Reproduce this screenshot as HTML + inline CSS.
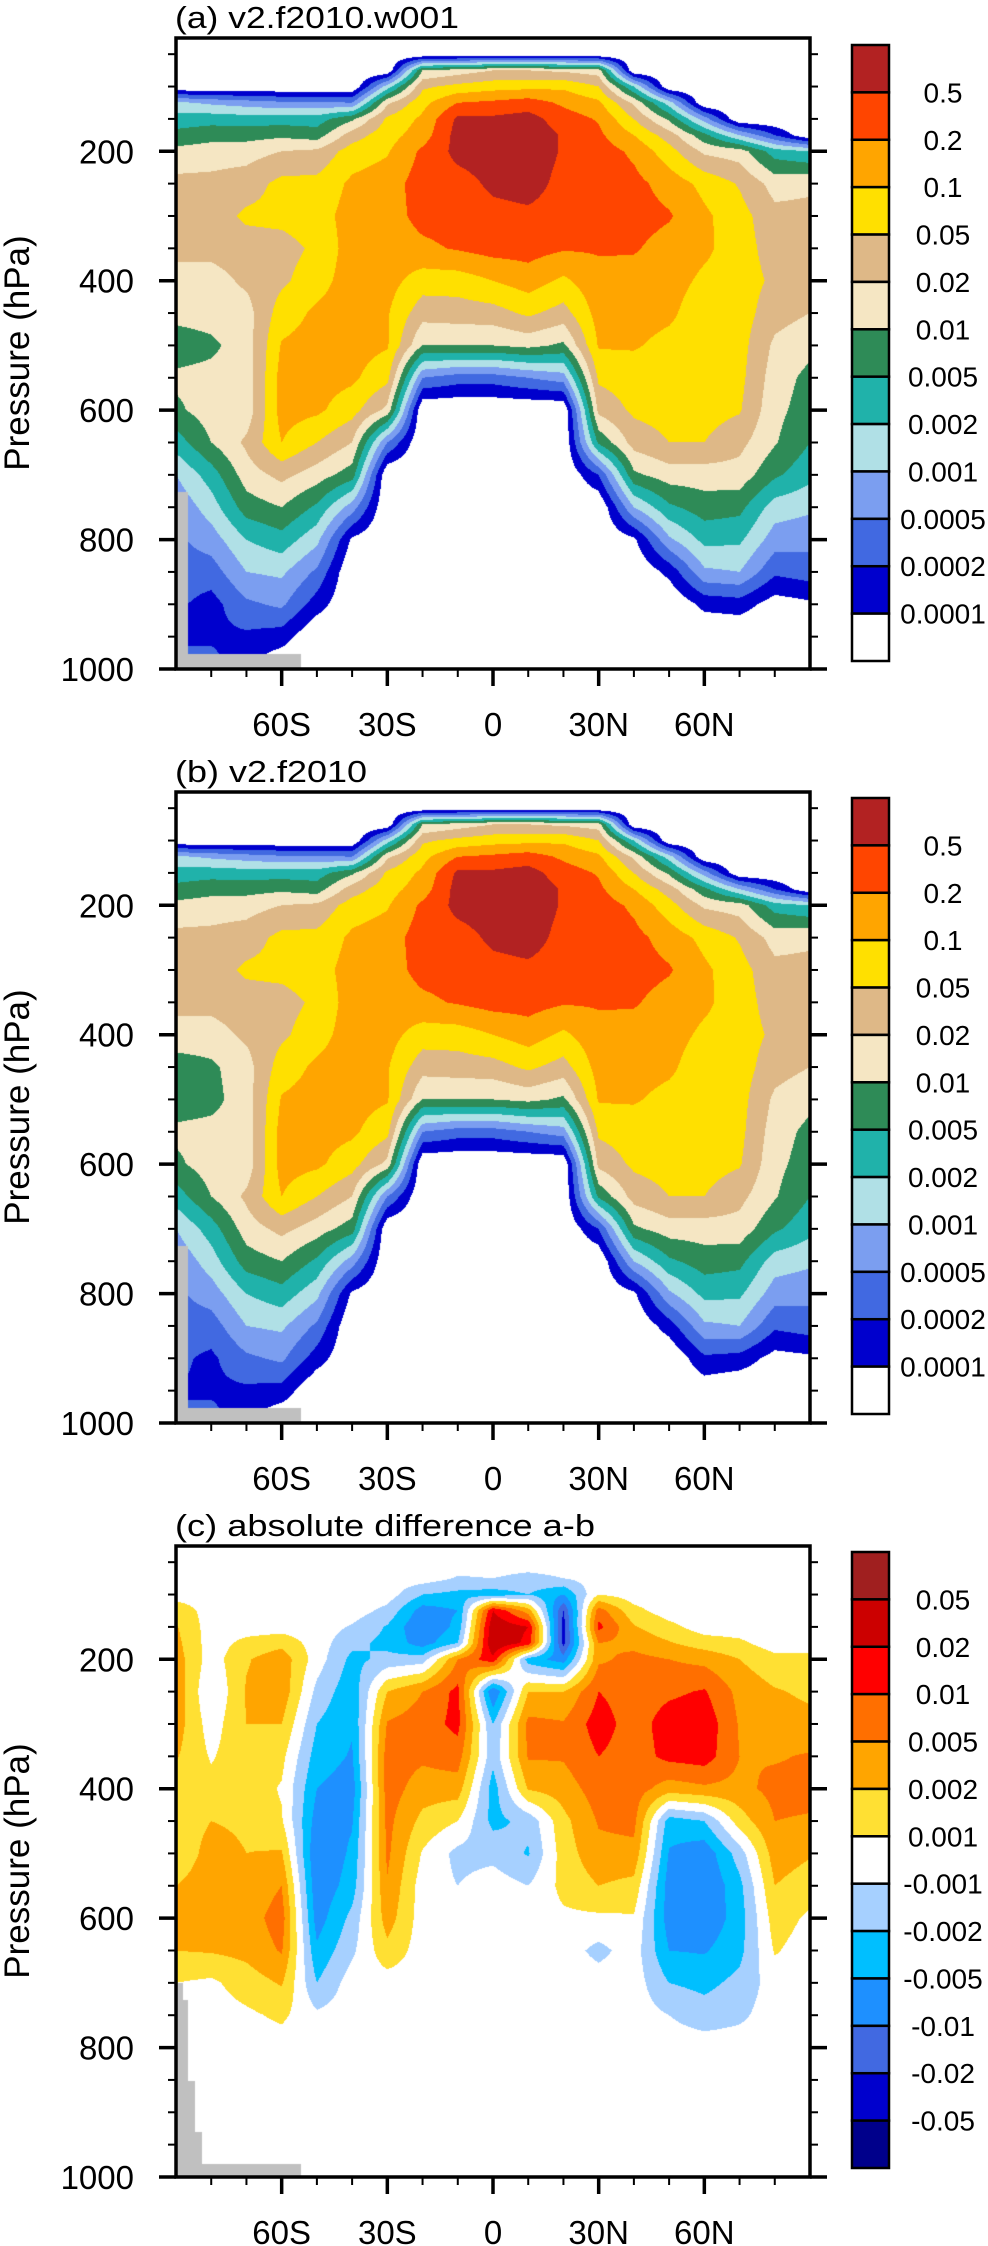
<!DOCTYPE html>
<html><head><meta charset="utf-8">
<style>
html,body{margin:0;padding:0;background:#fff;}
#root{position:relative;width:988px;height:2246px;overflow:hidden;background:#fff;}
canvas{position:absolute;}
svg{position:absolute;left:0;top:0;}
text{font-family:"Liberation Sans",Arial,sans-serif;fill:#000;}
</style></head>
<body>
<div id="root">
<canvas id="cva" width="634" height="631" style="left:176px;top:38px"></canvas>
<canvas id="cvb" width="634" height="631" style="left:176px;top:792px"></canvas>
<canvas id="cvc" width="634" height="631" style="left:176px;top:1546px"></canvas>
<svg id="ov" width="988" height="2246"></svg>
</div>
<script>
// ---- shared axis data ----
const LONS = [-90,-80,-70,-60,-50,-40,-30,-20,-10,0,10,20,30,40,50,60,70,80,90];
const PRES = [25,50,75,100,125,150,175,200,250,300,350,400,450,500,550,600,650,700,750,800,850,900,950,1000];
const yTickLabels = [200,400,600,800,1000];
const xTickVals = [-60,-30,0,30,60];
const xTickLabels = ["60S","30S","0","30N","60N"];
const levelLabelsAB = ["0.5","0.2","0.1","0.05","0.02","0.01","0.005","0.002","0.001","0.0005","0.0002","0.0001"];
const levelLabelsC = ["0.05","0.02","0.01","0.005","0.002","0.001","-0.001","-0.002","-0.005","-0.01","-0.02","-0.05"];

// ---- panel (a): contour level class (continuous) per longitude column, rows = PRES ----
const gridA = [
[0,0,0,0,4.2,5.5,6.3,7.3,8.3,8.4,8.3,7.6,7.3,6.5,7.2,6.8,5.5,4,3.2,2.8,2.5,2.2,2,2],
[0,0,0,0,3.8,5.6,6.6,7.5,8.3,8.5,8.3,7.6,7.4,6.8,7.3,7.5,7,5.5,4.5,3.5,2.5,1.6,1.8,2.5],
[0,0,0,0,3.5,5.5,6.6,7.6,8.5,9.2,8.5,8.2,7.6,7.5,7.4,7.4,8.2,7.5,6.5,5,4,2.8,1.8,1],
[0,0,0,0,3.2,5.5,6.8,8,9.3,9.3,8.6,8.8,9.5,10.1,10.4,10.4,10,8.3,7,5.6,4.2,3.2,1.5,0],
[0,0,0,0,3.2,5.5,6.5,8.2,9.3,9.6,9.2,9.6,10.2,10.4,10.4,10.2,9,7.5,5.8,4.3,2.8,1.5,0,0],
[0,0,0,0,3,6.8,8.5,9.5,10.2,10.4,10.5,10.5,10.5,10.4,10.2,9.4,8,6.5,3.5,0.8,0,0,0,0],
[0,0,0,4.5,7.8,9.2,9.6,9.9,10.5,10.6,10.5,10.4,10.1,10.1,9.3,7.7,3,0,0,0,0,0,0,0],
[0,0,7,8.8,9.7,10.2,10.5,11.2,11.5,11.3,10.8,9.5,8.4,7,3,0,0,0,0,0,0,0,0,0],
[0,0,7.5,9.3,11,12.2,12.4,12.3,11.6,11.4,11.1,9.5,8.5,7,2.5,0,0,0,0,0,0,0,0,0],
[0,0,8,9.6,11.2,12.2,12.5,12.5,12.2,11.7,11.4,10,8.6,7,2.5,0,0,0,0,0,0,0,0,0],
[0,0,8,9.7,11.5,12.4,12.6,12.6,12.4,11.8,11.4,10.5,9.2,7.3,3,0,0,0,0,0,0,0,0,0],
[0,0,7.8,9.8,10.8,11.5,11.9,11.9,11.7,11.6,11.1,9.8,8.6,6.8,3.5,0,0,0,0,0,0,0,0,0],
[0,0,7.5,9,10.2,10.9,11.2,11.5,11.6,11.4,11.1,10.7,10.4,10.1,9.2,8.3,6.2,2,0,0,0,0,0,0],
[0,0,0,5,7.8,9,10,10.8,11.3,11.4,11.1,10.6,10.4,10.1,9.5,9.2,8.4,6.8,4,0.8,0,0,0,0],
[0,0,0,0,4.5,6.8,8.5,9.4,10.6,11.1,10.6,10.4,10.2,9.7,9.5,9.4,9,7.5,5.8,3.8,1.3,0,0,0],
[0,0,0,0,0,3.5,6.3,7.8,9.7,10.2,10.2,9.8,9.4,9.5,9.5,9.4,9,7.5,6.5,5.3,3.8,1.3,0,0],
[0,0,0,0,0,0,4,7.5,8.9,9.4,9.5,9.5,9.5,9.4,9.3,9.1,8.3,7.6,6.3,5.2,4,1.5,0,0],
[0,0,0,0,0,0,2,5.5,7.6,8.3,8.5,8.8,8.4,7.8,7.5,7.3,7.1,6.2,4.5,3.5,2.2,0.5,0,0],
[0,0,0,0,0,0,0,5,7.8,8.3,8.4,8.3,8,7.3,6.7,6.5,6,5.3,4.2,3.3,2.5,0.8,0,0]
];
// ---- panel (b) ----
const gridB = [
[0,0,0,0,4.2,5.5,6.3,7.3,8.3,8.4,8.3,7.6,6.5,6.5,7.2,6.8,5.5,4,3.2,2.8,2.5,2.2,2,2],
[0,0,0,0,3.8,5.6,6.6,7.5,8.3,8.5,8.3,7.6,6.8,6.7,7.3,7.5,7,5.5,4.5,3.5,2.5,1.8,1.8,2.5],
[0,0,0,0,3.5,5.5,6.6,7.6,8.5,9.2,8.5,8.2,7.6,7.5,7.4,7.4,8.2,7.5,6.5,5,4,2.8,1.8,1],
[0,0,0,0,3.2,5.5,6.8,8,9.3,9.3,8.6,8.8,9.5,10.1,10.4,10.4,10,8.3,7,5.6,4.2,3.2,1.6,0],
[0,0,0,0,3.2,5.5,6.5,8.2,9.3,9.6,9.2,9.6,10.2,10.4,10.4,10.2,9,7.5,5.8,4.3,2.8,1.5,0,0],
[0,0,0,0,3,6.8,8.5,9.5,10.2,10.4,10.5,10.5,10.5,10.4,10.2,9.4,8,6.5,3.5,0.8,0,0,0,0],
[0,0,0,4.5,7.8,9.2,9.6,9.9,10.5,10.6,10.5,10.4,10.1,10.1,9.3,7.7,3,0,0,0,0,0,0,0],
[0,0,7,8.8,9.7,10.2,10.5,11.2,11.5,11.3,10.8,9.5,8.4,7,3,0,0,0,0,0,0,0,0,0],
[0,0,7.5,9.3,11,12.2,12.4,12.3,11.6,11.4,11.1,9.5,8.5,7,2.5,0,0,0,0,0,0,0,0,0],
[0,0,8,9.6,11.2,12.2,12.5,12.5,12.2,11.7,11.4,10,8.6,7,2.5,0,0,0,0,0,0,0,0,0],
[0,0,8,9.7,11.5,12.4,12.6,12.6,12.4,11.8,11.4,10.5,9.2,7.3,3,0,0,0,0,0,0,0,0,0],
[0,0,7.8,9.8,10.8,11.5,11.9,11.9,11.7,11.6,11.1,9.8,8.6,6.8,3.5,0,0,0,0,0,0,0,0,0],
[0,0,7.5,9,10.2,10.9,11.2,11.5,11.6,11.4,11.1,10.7,10.4,10.1,9.2,8.3,6.2,2,0,0,0,0,0,0],
[0,0,0,5,7.8,9,10,10.8,11.3,11.4,11.1,10.6,10.4,10.1,9.5,9.2,8.4,6.8,4,0.8,0,0,0,0],
[0,0,0,0,4.5,6.8,8.5,9.4,10.6,11.1,10.6,10.4,10.2,9.7,9.5,9.4,9,7.5,5.8,3.8,1.5,0,0,0],
[0,0,0,0,0,3.5,6.3,7.8,9.7,10.2,10.2,9.8,9.4,9.5,9.5,9.4,9,7.5,6.5,5.3,3.8,1.8,0.3,0],
[0,0,0,0,0,0,4,7.5,8.9,9.4,9.5,9.5,9.5,9.4,9.3,9.1,8.3,7.6,6.3,5.2,4,1.6,0,0],
[0,0,0,0,0,0,2,5.5,7.6,8.3,8.5,8.8,8.4,7.8,7.5,7.3,7.1,6.2,4.5,3.5,2.2,0.6,0,0],
[0,0,0,0,0,0,0,5,7.8,8.3,8.4,8.3,8,7.3,6.7,6.5,6,5.3,4.2,3.3,2.5,0.8,0,0]
];
// ---- panel (c): signed difference class (0 = |diff|<0.001) ----
const gridC = [
[0,0,0,0,1.2,1.6,1.8,2,2.2,2,1.6,1,0.8,0.6,1.5,2.2,1.5,0.5,0,0,0,0,0,0],
[0,0,0,0,0,0,0,0,-0.5,0,0.4,0.8,1.5,2,2.2,2.3,1.6,0.3,0,0,0,0,0,0],
[0,0,0,0,0,0,0.8,1.4,1.6,1.5,1.2,1.1,1.3,1.5,1.8,2,1.8,1,0.3,0,0,0,0,0],
[0,0,0,0,0,0,1.2,2.1,2.2,1.5,0.8,0.4,0.6,1.6,2.5,3,2.6,1.6,0.7,0,0,0,0,0],
[0,0,0,0,0,0,0,0,-0.8,-1.5,-2,-2.5,-3,-3.5,-3.3,-3,-2.3,-1.5,-0.3,0,0,0,0,0],
[0,0,0,0,0,-0.6,-1.2,-1.8,-2.2,-2.4,-2.6,-3,-2.6,-2.3,-2,-1.2,-0.7,0,0,0,0,0,0,0],
[0,0,0,0,-0.8,-1.6,-1.8,-1.2,1.5,2.6,3,3,2.8,2.7,2.4,2,1.2,0,0,0,0,0,0,0],
[0,0,0,-1.5,-3,-3.5,-3,-1,2.5,3,2.7,2,1.2,0.4,0,0,0,0,0,0,0,0,0,0],
[0,0,-0.6,-1.8,-2.5,-2.2,-1.5,2.5,3.8,3.8,3,2,0.5,-0.8,-0.5,0,0,0,0,0,0,0,0,0],
[0,0,-0.5,-2,4.5,5.3,5.5,4.2,-3.5,-1.5,-1.2,-2,-1.8,-0.8,0,0,0,0,0,0,0,0,0,0],
[0,0,-0.8,-1.5,2,4.5,4.2,-2,1.5,2.8,2.6,1.6,-1.2,-1.6,-0.5,0,0,0,0,0,0,0,0,0],
[0,0,-0.5,-2.5,-4.5,-5,-4.8,-3,1.5,2.6,2.6,2,1.2,1,0.8,0.3,0,0,0,0,0,0,0,0],
[0,0,0,0.5,3,3.8,2.5,2.3,3.5,4,3.5,3,2.6,2.2,1.5,0.3,-0.8,0,0,0,0,0,0,0],
[0,0,0,0,0.8,1.6,2.2,2.8,3,3,3,3,2.8,2.2,1.2,0.4,0,0,0,0,0,0,0,0],
[0,0,0,0,0,0.8,1.6,2.5,3.3,4,3.8,2,-2,-2.6,-3,-3,-2.5,-1.5,-0.5,0,0,0,0,0],
[0,0,0,0,0,0,1,2.2,3.6,4.2,4,2.3,-1.5,-3.2,-3.5,-3.3,-2.6,-1.8,-1,0,0,0,0,0],
[0,0,0,0,0,0,0.7,1.5,2.2,2.4,2.5,2.2,1,-1,-1.8,-2,-1.8,-1.2,-0.7,0,0,0,0,0],
[0,0,0,0,0,0,0,0.8,1.6,2,2.4,2.8,2.5,2,1.5,1,0.6,0,0,0,0,0,0,0],
[0,0,0,0,0,0,0,0.8,1.3,1.8,2.6,2.8,2.4,1.6,1,0.3,0,0,0,0,0,0,0,0]
];
// topography mask: [west lon, east lon, surface pressure top]
const topoAB = [[-90,-86.5,727],[-86.5,-54.5,977]];
const topoC = [[-90,-88,701],[-88,-86.5,727],[-86.5,-84.5,852],[-84.5,-82.5,930],[-82.5,-54.5,980]];

const colorsAB = ["#ffffff","#0000cd","#4169e1","#7b9ef0","#b0e0e6","#20b2aa","#2e8b57","#f5e6c3","#deb887","#ffe000","#ffa500","#ff4500","#b22222"];
const colorsCpos = ["#ffffff","#ffe033","#ffa500","#ff6f00","#ff0000","#cc0000","#a01f1f"];
const colorsCneg = ["#ffffff","#a6d0ff","#00bfff","#1e90ff","#4169e1","#0000cd","#00008b"];

const FW = 634, FH = 631, FL = 176;
const panels = [
 {id:"a", top:38, grid:gridA, topo:topoAB, title:"(a) v2.f2010.w001", kind:"ab"},
 {id:"b", top:792, grid:gridB, topo:topoAB, title:"(b) v2.f2010", kind:"ab"},
 {id:"c", top:1546, grid:gridC, topo:topoC, title:"(c) absolute difference a-b", kind:"c"}
];
const xOf = lon => FL + (lon + 90) / 180 * FW;
const yOf = (p, top) => top + (p - 25) / 975 * FH;

function hex(c){return [parseInt(c.substr(1,2),16),parseInt(c.substr(3,2),16),parseInt(c.substr(5,2),16)];}
function colorFor(kind, v){
  if(kind==="ab"){ let k=Math.floor(v); if(k<0)k=0; if(k>12)k=12; return colorsAB[k]; }
  if(v>=0){ let k=Math.floor(v+0.5); if(k>6)k=6; return colorsCpos[k]; }
  let k=Math.floor(-v+0.5); if(k>6)k=6; return colorsCneg[k];
}
function sample(grid, lon, p){
  let li = Math.floor((lon + 90) / 10); if(li<0)li=0; if(li>17)li=17;
  const tx = (lon - LONS[li]) / (LONS[li+1]-LONS[li]);
  let pi = 0; while(pi < PRES.length-2 && p > PRES[pi+1]) pi++;
  let ty = (p - PRES[pi]) / (PRES[pi+1]-PRES[pi]); ty=Math.max(0,Math.min(1,ty));
  const a=grid[li][pi], b=grid[li+1][pi], c=grid[li][pi+1], d=grid[li+1][pi+1];
  return (a*(1-tx)+b*tx)*(1-ty)+(c*(1-tx)+d*tx)*ty;
}
panels.forEach(P=>{
  const cv=document.getElementById("cv"+P.id), ctx=cv.getContext("2d");
  const img=ctx.createImageData(FW,FH), D=img.data, cache={};
  for(let j=0;j<FH;j++){
    const p=25+975*(j+0.5)/FH;
    for(let i=0;i<FW;i++){
      const lon=-90+180*(i+0.5)/FW;
      let col=colorFor(P.kind, sample(P.grid,lon,p));
      for(const t of P.topo){ if(lon>=t[0]&&lon<t[1]&&p>=t[2]) col="#c0c0c0"; }
      const rgb=cache[col]||(cache[col]=hex(col));
      const o=(j*FW+i)*4; D[o]=rgb[0];D[o+1]=rgb[1];D[o+2]=rgb[2];D[o+3]=255;
    }
  }
  ctx.putImageData(img,0,0);
});

// ---- overlay ----
const NS="http://www.w3.org/2000/svg", ov=document.getElementById("ov");
function mk(tag, attrs, parent, txt){
  const e=document.createElementNS(NS,tag);
  for(const k in attrs) e.setAttribute(k,attrs[k]);
  if(txt!==undefined) e.textContent=txt;
  (parent||ov).appendChild(e); return e;
}
panels.forEach(P=>{
  const g=mk("g",{});
  
  
  const t=mk("text",{x:175,y:P.top-10,"font-size":31,textLength:P.kind==="c"?420:(P.id==="a"?284:192),lengthAdjust:"spacingAndGlyphs"},g,P.title);
  
  
  for(let p=50;p<=1000;p+=50){
    const y=yOf(p,P.top), major=(p%200===0), L=major?17:8;
    const tl=mk("line",{x1:FL-L,x2:FL,y1:y,y2:y,stroke:"#000","stroke-width":major?3.5:2},g);
    
    
    const tr=mk("line",{x1:FL+FW,x2:FL+FW+L,y1:y,y2:y,stroke:"#000","stroke-width":major?3.5:2},g);
    
    
  }
  yTickLabels.forEach(p=>{
    const lb=mk("text",{x:134,y:yOf(p,P.top)+12,"font-size":33,"text-anchor":"end"},g,String(p));
    
    
  });
  for(let lon=-80;lon<=80;lon+=10){
    const major=xTickVals.indexOf(lon)>=0, x=xOf(lon), L=major?17:8;
    const xt=mk("line",{x1:x,x2:x,y1:P.top+FH,y2:P.top+FH+L,stroke:"#000","stroke-width":major?3.5:2},g);
    
    
  }
  xTickVals.forEach((lon,i)=>{
    const lb=mk("text",{x:xOf(lon),y:P.top+FH+67,"font-size":33,"text-anchor":"middle"},g,xTickLabels[i]);
    
    
  });
  const fr=mk("rect",{x:FL,y:P.top,width:FW,height:FH,fill:"none",stroke:"#000","stroke-width":3.5},g);
  
  
  const yt=mk("text",{x:0,y:0,"font-size":35,"text-anchor":"middle",transform:"translate(29,"+(P.top+315)+") rotate(-90)"},g,"Pressure (hPa)");
  
  
  const cbTop=P.top+(P.id==="a"?7:6), cbH=616, bh=cbH/13;
  const cb=mk("g",{},g);
  
  
  for(let k=0;k<13;k++){
    let col;
    if(P.kind==="ab") col=colorsAB[12-k];
    else col = k<6 ? colorsCpos[6-k] : (k===6 ? "#ffffff" : colorsCneg[k-6]);
    const r=mk("rect",{x:852,y:cbTop+k*bh,width:37,height:bh,fill:col,stroke:"#000","stroke-width":2.5},cb);
    
    
  }
  const labs=P.kind==="ab"?levelLabelsAB:levelLabelsC;
  labs.forEach((s,k)=>{
    const lb=mk("text",{x:943,y:cbTop+(k+1)*bh+10,"font-size":28,"text-anchor":"middle"},cb,s);
    
    
  });
});
</script>
</body></html>
